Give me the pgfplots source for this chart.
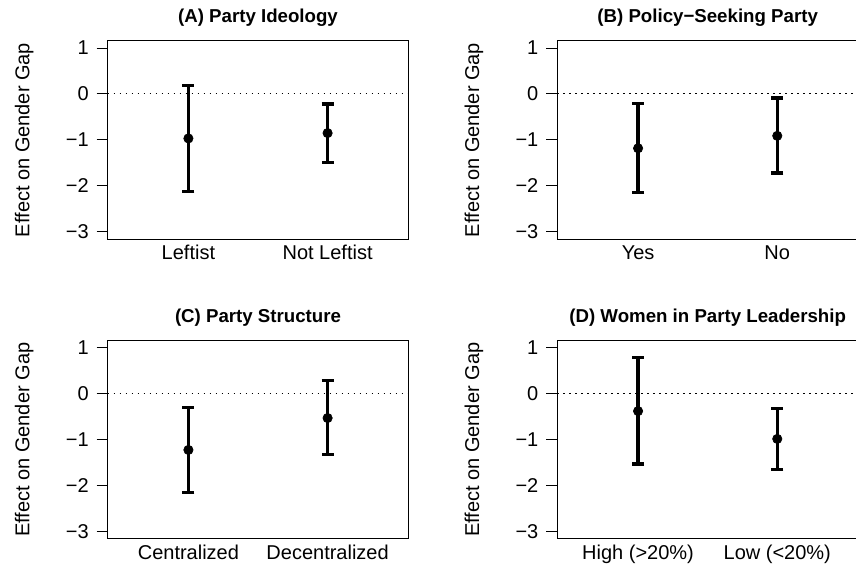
\documentclass[border=0pt]{standalone}
\usepackage{pgfplots}
\pgfplotsset{compat=1.18}
\usepackage{pgfplotstable}
\usepackage{fontspec}
\setmainfont{Liberation Sans}

\pgfplotstableread{
x y ep em
1 -0.966 1.156 1.154
2 -0.850 0.634 0.635
}\dataA
\pgfplotstableread{
x y ep em
1 -1.180 0.970 0.960
2 -0.910 0.823 0.810
}\dataB
\pgfplotstableread{
x y ep em
1 -1.220 0.925 0.930
2 -0.525 0.820 0.800
}\dataC
\pgfplotstableread{
x y ep em
1 -0.374 1.160 1.150
2 -0.980 0.665 0.660
}\dataD

\pgfplotsset{
  panel/.style={
    scale only axis,
    width=180.4pt, height=119.2pt,
    anchor=south west,
    xmin=0.42, xmax=2.58,
    ymin=-3.16, ymax=1.16,
    axis line style={line width=0.6pt},
    xtick={1,2},
    ytick={-3,-2,-1,0,1},
    yticklabels={−3,−2,−1,0,1},
    ytick pos=left,
    xtick style={draw=none},
    ytick style={line width=0.6pt, black},
    ytick align=outside,
    xtick align=inside,
    major tick length=6.6pt,
    tick label style={font=\fontsize{12}{14}\selectfont},
    yticklabel style={anchor=east, inner sep=0pt, xshift=-4.6pt},
    xticklabel style={anchor=base, inner sep=0pt, yshift=-12.4pt},
    ylabel={Effect on Gender Gap},
    ylabel style={at={(axis description cs:-0.2605,0.5)}, anchor=base, rotate=0, font=\fontsize{12}{14}\selectfont},
    every axis title shift=0pt,
    title style={at={(axis description cs:0.5,1)}, anchor=base, yshift=10.9pt, font=\bfseries\fontsize{11.2}{13}\selectfont},
    every axis plot/.append style={black},
    clip=false,
  },
  pts/.style={
    only marks, mark=*, mark size=2.8pt, mark options={fill=black, draw=black},
    error bars/.cd, y dir=both, y explicit,
    error bar style={line width=2pt, black},
    error mark options={mark size=3.6pt, line width=2pt, black, rotate=90},
  },
}

\begin{document}
\begin{tikzpicture}
\useasboundingbox (0,0) rectangle (513.6pt,341.4pt);

\begin{axis}[panel, at={(64.6pt,197.8pt)}, title={(A) Party Ideology},
  xticklabels={Leftist, Not Leftist}]
  \addplot[black, line width=0.6pt, dash pattern=on 0.9pt off 2.7pt, forget plot] coordinates {(0.42,0) (2.58,0)};
  \addplot[pts] table[x=x, y=y, y error plus=ep, y error minus=em] {\dataA};
\end{axis}

\begin{axis}[panel, at={(334.4pt,197.8pt)}, title={(B) Policy−Seeking Party},
  xticklabels={Yes, No}]
  \addplot[black, line width=0.6pt, dash pattern=on 0.9pt off 2.7pt, forget plot] coordinates {(0.42,0) (2.58,0)};
  \addplot[pts] table[x=x, y=y, y error plus=ep, y error minus=em] {\dataB};
\end{axis}

\begin{axis}[panel, at={(64.6pt,18pt)}, height=119pt, title={(C) Party Structure},
  xticklabels={Centralized, Decentralized}]
  \addplot[black, line width=0.6pt, dash pattern=on 0.9pt off 2.7pt, forget plot] coordinates {(0.42,0) (2.58,0)};
  \addplot[pts] table[x=x, y=y, y error plus=ep, y error minus=em] {\dataC};
\end{axis}

\begin{axis}[panel, at={(334.4pt,18pt)}, height=119pt, title={(D) Women in Party Leadership},
  xticklabels={High (>20\%), Low (<20\%)}]
  \addplot[black, line width=0.6pt, dash pattern=on 0.9pt off 2.7pt, forget plot] coordinates {(0.42,0) (2.58,0)};
  \addplot[pts] table[x=x, y=y, y error plus=ep, y error minus=em] {\dataD};
\end{axis}
\end{tikzpicture}
\end{document}
